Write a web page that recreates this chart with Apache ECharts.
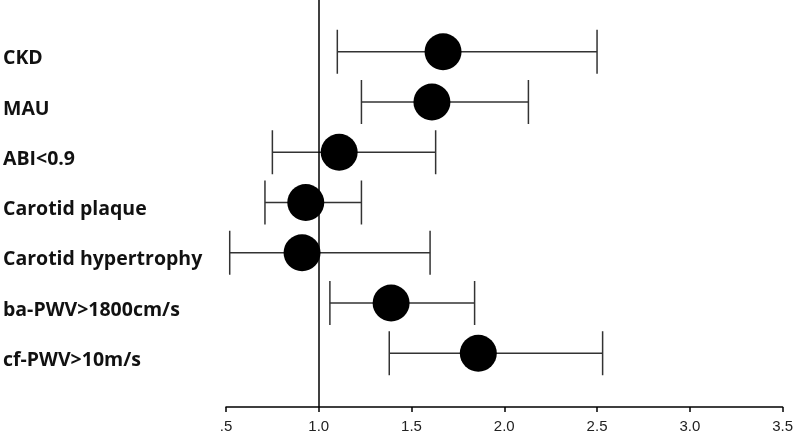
<!DOCTYPE html>
<html>
<head>
<meta charset="utf-8">
<script src="https://cdn.jsdelivr.net/npm/echarts@6/dist/echarts.min.js"></script>
<style>
html,body{margin:0;padding:0;background:#fff;}
#chart{width:796px;height:434px;}
</style>
</head>
<body>
<div id="chart"></div>
<script>
// Data (top to bottom)
var categories = ['CKD', 'MAU', 'ABI<0.9', 'Carotid plaque', 'Carotid hypertrophy', 'ba-PWV>1800cm/s', 'cf-PWV>10m/s'];
var oddsRatio = [1.67, 1.61, 1.11, 0.93, 0.91, 1.39, 1.86];
var lowerCI = [1.10, 1.23, 0.75, 0.71, 0.52, 1.06, 1.38];
var upperCI = [2.50, 2.13, 1.63, 1.23, 1.60, 1.84, 2.53];
var xTickValues = [0.5, 1.0, 1.5, 2.0, 2.5, 3.0, 3.5];
var xTickLabels = ['.5', '1.0', '1.5', '2.0', '2.5', '3.0', '3.5'];
var referenceValue = 1.0;

var n = categories.length;
function rowPos(i) { return n - i; }

var pointData = [];
var ciData = [];
var rowValues = [];
for (var i = 0; i < n; i++) {
  pointData.push([oddsRatio[i], rowPos(i)]);
  ciData.push([lowerCI[i], upperCI[i], rowPos(i)]);
  rowValues.push(rowPos(i));
}

var chart = echarts.init(document.getElementById('chart'), null, {renderer: 'canvas'});
chart.setOption({
  animation: false,
  backgroundColor: '#ffffff',
  grid: {left: 225, right: 13, top: 0, bottom: 26, containLabel: false},
  xAxis: {
    type: 'value',
    min: 0.5, max: 3.5, interval: 0.5,
    splitLine: {show: false},
    axisLine: {show: true, onZero: false, lineStyle: {color: '#000', width: 1.5}},
    axisTick: {show: true, length: 5, lineStyle: {color: '#000', width: 1.5}},
    axisLabel: {
      margin: 12, color: '#222', fontSize: 15, fontFamily: 'Liberation Sans, Arial, sans-serif',
      formatter: function (v) {
        var idx = xTickValues.indexOf(Math.round(v * 10) / 10);
        return idx >= 0 ? xTickLabels[idx] : '';
      }
    }
  },
  yAxis: {
    type: 'value',
    min: -0.07, max: 8.03,
    splitLine: {show: false},
    axisLine: {show: false},
    axisTick: {show: false},
    axisLabel: {
      show: true,
      customValues: rowValues,
      align: 'left',
      verticalAlign: 'top',
      lineHeight: 14,
      margin: 223,
      color: '#111',
      fontSize: 19.5,
      fontWeight: 'bold',
      fontFamily: 'Open Sans, Noto Sans, sans-serif',
      formatter: function (v) {
        var i = n - Math.round(v);
        return (i >= 0 && i < n) ? categories[i] : '';
      }
    }
  },
  series: [
    {
      type: 'custom',
      name: 'CI',
      data: ciData,
      renderItem: function (params, api) {
        var lo = api.coord([api.value(0), api.value(2)]);
        var hi = api.coord([api.value(1), api.value(2)]);
        var h = 22;
        var style = {stroke: '#333', lineWidth: 1.5, fill: null};
        return {
          type: 'group',
          children: [
            {type: 'line', shape: {x1: lo[0], y1: lo[1], x2: hi[0], y2: hi[1]}, style: style},
            {type: 'line', shape: {x1: lo[0], y1: lo[1] - h, x2: lo[0], y2: lo[1] + h}, style: style},
            {type: 'line', shape: {x1: hi[0], y1: hi[1] - h, x2: hi[0], y2: hi[1] + h}, style: style}
          ]
        };
      },
      z: 2
    },
    {
      type: 'scatter',
      name: 'OR',
      data: pointData,
      symbol: 'circle',
      symbolSize: 37,
      itemStyle: {color: '#000', opacity: 1},
      z: 3,
      markLine: {
        silent: true,
        symbol: 'none',
        label: {show: false},
        lineStyle: {color: '#000', width: 1.5, type: 'solid'},
        data: [{xAxis: referenceValue}]
      }
    }
  ]
});
</script>
</body>
</html>
